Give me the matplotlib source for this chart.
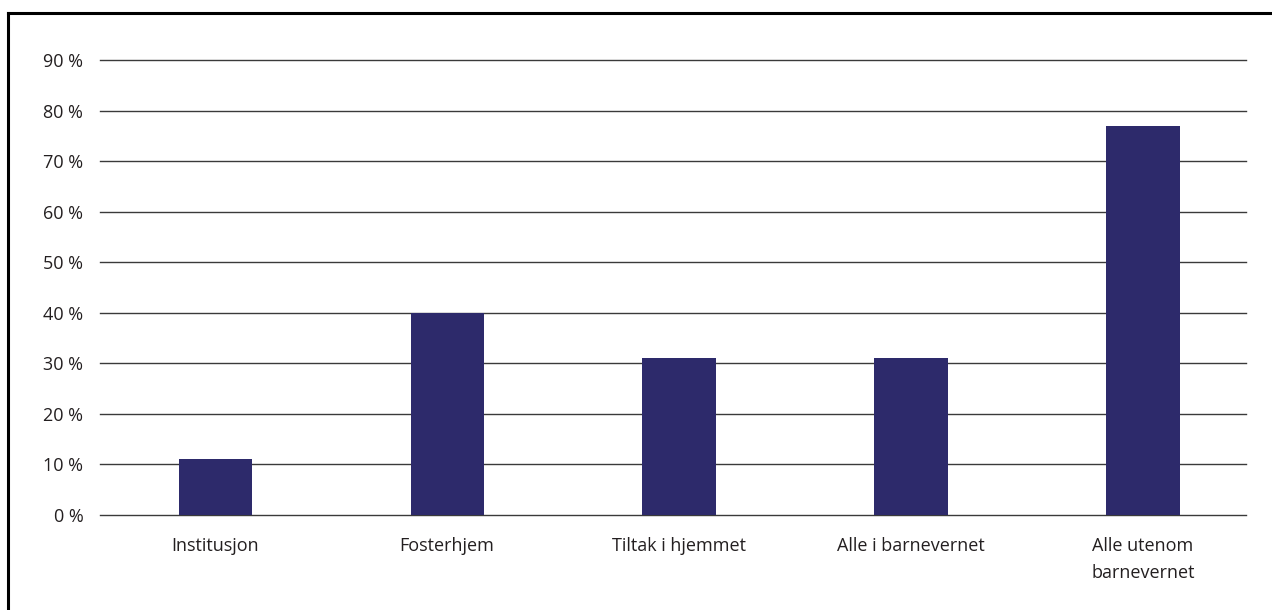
import matplotlib.pyplot as plt
from matplotlib.lines import Line2D

# andel per gruppe, i prosent
grupper = ["Institusjon", "Fosterhjem", "Tiltak i hjemmet",
           "Alle i barnevernet", "Alle utenom\nbarnevernet"]
andel = [11, 40, 31, 31, 77]
yticks = [0, 10, 20, 30, 40, 50, 60, 70, 80, 90]

plt.rcParams["font.family"] = ["Open Sans", "DejaVu Sans"]

W, H = 1272, 610
fig = plt.figure(figsize=(W / 100, H / 100), dpi=100)
ax = fig.add_axes([100 / W, 1 - 515 / H, (1246 - 100) / W, (515 - 60) / H])

x = range(len(grupper))
ax.bar(x, andel, width=0.315, color="#2d2a6b", zorder=3)

for t in yticks:
    ax.axhline(t, color="#3a3a3a", lw=1.0, zorder=1, clip_on=False)

ax.set_ylim(0, 90)
ax.set_xlim(-0.496, 4.444)
ax.set_yticks(yticks)
ax.set_yticklabels([f"{t} %" for t in yticks])
ax.set_xticks(list(x))
ax.set_xticklabels(grupper, linespacing=1.6)
ax.tick_params(axis="both", length=0, labelsize=13, labelcolor="#231f20")
ax.tick_params(axis="y", pad=12)
ax.tick_params(axis="x", pad=16)
for s in ax.spines.values():
    s.set_visible(False)

# ramme oppe og til venstre
fig.add_artist(Line2D([8 / W, 8 / W], [0, 1 - 13 / H], transform=fig.transFigure,
                      color="black", lw=2.2, solid_capstyle="projecting"))
fig.add_artist(Line2D([8 / W, 1], [1 - 13 / H, 1 - 13 / H], transform=fig.transFigure,
                      color="black", lw=2.2, solid_capstyle="projecting"))

fig.savefig("out.png", dpi=100)
